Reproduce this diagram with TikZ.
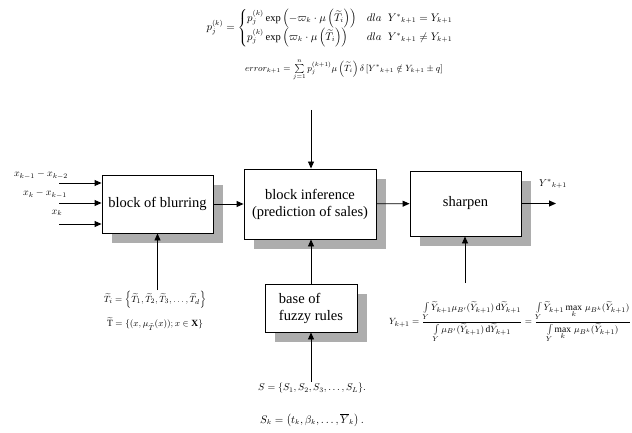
\documentclass[tikz,border=0pt]{standalone}
\usepackage{fontspec}
\setmainfont{Liberation Serif}
\usepackage{amsmath,amssymb}
\usetikzlibrary{positioning, arrows.meta, shadows}

\tikzset{
  blk/.style={draw, fill=white, inner sep=2pt, font=\fontsize{14.5}{17}\selectfont,
    general shadow={fill=black!32, shadow xshift=10pt, shadow yshift=-10pt}},
  frm/.style={inner sep=1pt, font=\fontsize{9.5}{11}\selectfont},
  lbl/.style={inner sep=1pt, font=\fontsize{10}{12}\selectfont}
}

\begin{document}
\begin{tikzpicture}[x=1pt, y=-1pt, >={Triangle[length=7pt,width=6pt]}, line width=0.9pt]
  \useasboundingbox (0,0) rectangle (632,433);

  % blocks
  \node[blk, minimum width=111pt, minimum height=58pt] (blur) at (157.5,204) {block of blurring};
  \node[blk, minimum width=132pt, minimum height=70pt, align=center] (infer) at (310,204)
    {block inference\\(prediction of sales)};
  \node[blk, minimum width=111pt, minimum height=65pt] (sharp) at (465.5,203.5) {sharpen};
  \node[blk, minimum width=92pt, minimum height=48pt, align=left] (rules) at (311,308)
    {base of\\fuzzy rules};

  % inputs
  \coordinate (in1) at (59,183);
  \coordinate (in2) at (59,203);
  \coordinate (in3) at (59,224);
  \node[lbl] (xa) at (41,175) {$x_{k-1}-x_{k-2}$};
  \node[lbl] (xb) at (45,194) {$x_k-x_{k-1}$};
  \node[lbl] (xc) at (57,213) {$x_k$};
  \draw[->] (in1) -- (in1 -| blur.west);
  \draw[->] (in2) -- (in2 -| blur.west);
  \draw[->] (in3) -- (in3 -| blur.west);

  % main chain
  \draw[->] (blur) -- (infer);
  \draw[->] (infer) -- (sharp);
  \coordinate (out) at (556,203.5);
  \draw[->] (sharp) -- (out);
  \node[lbl] (yout) at (553,184) {$Y^{*}{}_{k+1}$};

  % formulas
  \node[frm, font=\fontsize{10.5}{12}\selectfont] (pform) at (330,28) {$\renewcommand{\arraystretch}{1.3}p_j^{(k)}=\begin{cases}
      p_j^{(k)}\exp\left(-\varpi_k\cdot\mu\left(\widetilde{T}_i\right)\right) & dla\;\; Y^{*}{}_{k+1}=Y_{k+1}\\
      p_j^{(k)}\exp\left(\varpi_k\cdot\mu\left(\widetilde{T}_i\right)\right) & dla\;\; Y^{*}{}_{k+1}\neq Y_{k+1}
    \end{cases}$};
  \node[frm, font=\fontsize{9}{11}\selectfont] (eform) at (344,70) {$error_{k+1}=\sum\limits_{j=1}^{n}p_j^{(k+1)}\mu\left(\widetilde{T}_i\right)\delta\left[Y^{*}{}_{k+1}\notin Y_{k+1}\pm q\right]$};
  \coordinate (top) at (311,110);
  \draw[->] (top) -- (top |- infer.north);

  \node[frm] (tset) at (155,300) {$\widetilde{T}_i=\left\{\widetilde{T}_1,\widetilde{T}_2,\widetilde{T}_3,\ldots,\widetilde{T}_d\right\}$};
  \node[frm] (tfun) at (155,324) {$\widetilde{\mathrm{T}}=\{(x,\mu_{\tilde{T}}(x));x\in\mathbf{X}\}$};
  \draw[->] (blur.south |- tset.north) -- (blur.south);

  \node[frm, font=\fontsize{10}{12}\selectfont] (sset) at (312,388) {$S=\{S_1,S_2,S_3,\ldots,S_L\}.$};
  \node[frm, font=\fontsize{10.5}{12}\selectfont] (sk) at (312,420) {$S_k=\left(t_k,\beta_k,\ldots,\overline{Y}_k\right).$};
  \draw[->] (rules.south |- sset.north) -- (rules.south);
  \draw[->] (rules) -- (infer.south -| rules);

  \node[frm] (yform) at (510,322) {$Y_{k+1}=\dfrac{\int\limits_{Y}\widetilde{Y}_{k+1}\mu_{B'}(\widetilde{Y}_{k+1})\,\mathrm{d}\widetilde{Y}_{k+1}}{\int\limits_{Y}\mu_{B'}(\widetilde{Y}_{k+1})\,\mathrm{d}\widetilde{Y}_{k+1}}
    =\dfrac{\int\limits_{Y}\widetilde{Y}_{k+1}\max\limits_{k}\,\mu_{B^k}(\widetilde{Y}_{k+1})}{\int\limits_{Y}\max\limits_{k}\,\mu_{B^k}(\widetilde{Y}_{k+1})}$};
  \coordinate (yin) at (465,283);
  \draw[->] (yin) -- (yin |- sharp.south);
\end{tikzpicture}
\end{document}
